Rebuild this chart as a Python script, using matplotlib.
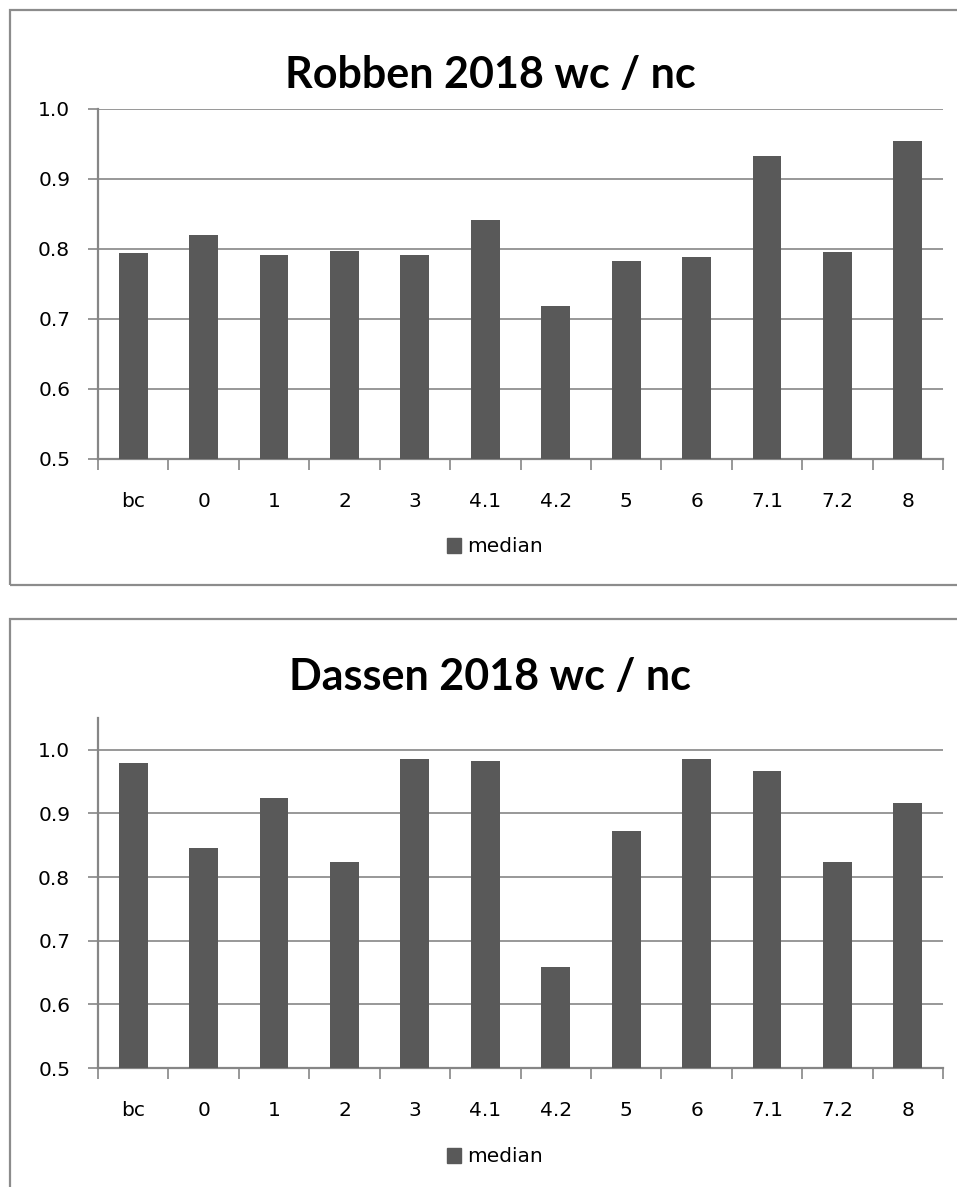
import matplotlib.pyplot as plt
import matplotlib.patches as patches
import numpy as np

categories = ["bc", "0", "1", "2", "3", "4.1", "4.2", "5", "6", "7.1", "7.2", "8"]
robben_median = [0.794, 0.820, 0.791, 0.797, 0.791, 0.841, 0.719, 0.783, 0.789, 0.933, 0.796, 0.954]
dassen_median = [0.980, 0.845, 0.925, 0.824, 0.986, 0.982, 0.659, 0.872, 0.985, 0.966, 0.823, 0.917]

plt.rcParams["font.family"] = ["DejaVu Sans"]

W, H = 957, 1187
fig = plt.figure(figsize=(W / 100, H / 100), dpi=100)

bar_color = "#595959"
line_color = "#868686"


def draw_panel(values, title, title_base, ax_top_px, ax_bottom_px, ymax, legend_px, frame_top, frame_bottom):
    # frame around the chart
    fig.patches.append(patches.Rectangle(
        (10 / W, 1 - frame_bottom / H), 1.0, (frame_bottom - frame_top) / H,
        transform=fig.transFigure, fill=False, edgecolor="#8c8c8c", linewidth=1.6))

    ax = fig.add_axes([98 / W, 1 - ax_bottom_px / H, 845 / W, (ax_bottom_px - ax_top_px) / H])
    x = np.arange(len(categories))
    ax.bar(x, values, width=0.41, color=bar_color, zorder=3, label="median")
    ax.set_xlim(-0.5, len(categories) - 0.5)
    ax.set_ylim(0.5, ymax)
    ax.set_yticks([0.5, 0.6, 0.7, 0.8, 0.9, 1.0])
    ax.set_yticklabels(["0.5", "0.6", "0.7", "0.8", "0.9", "1.0"])
    ax.yaxis.grid(True, color=line_color, linewidth=1.2, zorder=0)
    ax.set_axisbelow(True)

    ax.set_xticks(x)
    ax.set_xticklabels(categories)
    ax.set_xticks(np.arange(-0.5, len(categories)), minor=True)
    ax.tick_params(axis="x", which="major", length=0, pad=24, labelsize=14.5)
    ax.tick_params(axis="x", which="minor", length=8, color=line_color, width=1.2, direction="out")
    ax.tick_params(axis="y", length=7, color=line_color, width=1.2, pad=13, labelsize=14.5)

    for s in ["top", "right"]:
        ax.spines[s].set_visible(False)
    for s in ["left", "bottom"]:
        ax.spines[s].set_color(line_color)
        ax.spines[s].set_linewidth(1.6)

    fig.text(490 / W, 1 - title_base / H, title, ha="center", va="baseline",
             fontsize=31, fontweight="bold", family=["Lato", "DejaVu Sans"])

    h = patches.Patch(color=bar_color, label="median")
    fig.legend(handles=[h], loc="center", bbox_to_anchor=(495 / W, 1 - legend_px / H),
               frameon=False, fontsize=14.5, handlelength=0.72, handleheight=0.72,
               handletextpad=0.3, borderaxespad=0)


draw_panel(robben_median, "Robben 2018 wc / nc", 88, 109, 459, 1.0, 547, 10, 585)
draw_panel(dassen_median, "Dassen 2018 wc / nc", 690, 718, 1068, 1.05, 1157, 619, 1200)

plt.savefig("out.png", dpi=100)
